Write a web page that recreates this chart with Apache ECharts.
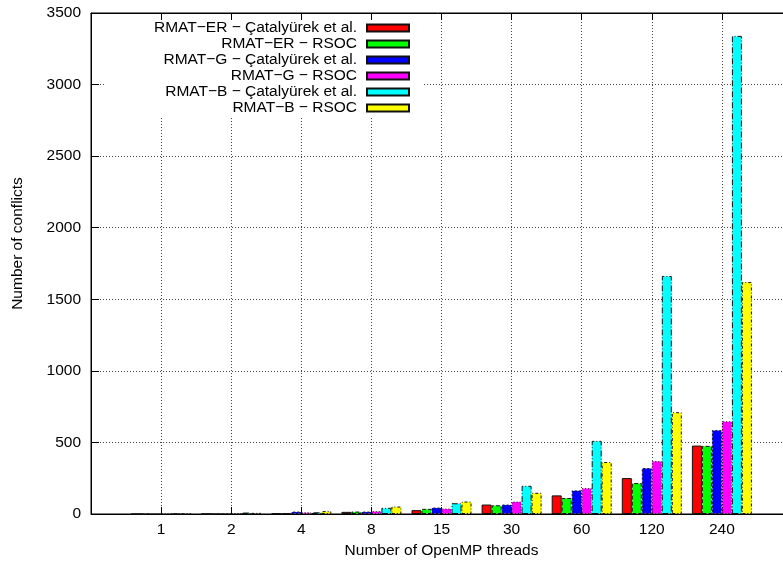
<!DOCTYPE html>
<html>
<head>
<meta charset="utf-8">
<script src="https://cdn.jsdelivr.net/npm/echarts@6/dist/echarts.min.js"></script>
<style>
  html, body { margin: 0; padding: 0; background: #fff; }
  #chart { width: 783px; height: 568px; }
</style>
</head>
<body>
<div id="chart"></div>
<script>
// Thread counts on the x axis (empty slots pad the range on both sides)
const threadCounts = ['1', '2', '4', '8', '15', '30', '60', '120', '240'];
const yTicks = [0, 500, 1000, 1500, 2000, 2500, 3000, 3500];

const seriesNames = [
  'RMAT\u2212ER \u2212 \u00c7atalyürek et al.',
  'RMAT\u2212ER \u2212 RSOC',
  'RMAT\u2212G \u2212 \u00c7atalyürek et al.',
  'RMAT\u2212G \u2212 RSOC',
  'RMAT\u2212B \u2212 \u00c7atalyürek et al.',
  'RMAT\u2212B \u2212 RSOC'
];

// Number of conflicts per thread count
const erCatalyurek = [0, 1, 5, 15, 27, 66, 130, 251, 478];
const erRsoc       = [0, 1, 6, 17, 36, 61, 112, 216, 476];
const gCatalyurek  = [0, 2, 17, 17, 45, 66, 165, 321, 586];
const gRsoc        = [0, 4, 12, 20, 38, 87, 181, 370, 648];
const bCatalyurek  = [1, 10, 12, 43, 75, 197, 511, 1663, 3340];
const bRsoc        = [1, 8, 20, 52, 87, 148, 363, 711, 1620];

const seriesValues = [erCatalyurek, erRsoc, gCatalyurek, gRsoc, bCatalyurek, bRsoc];
const fills = ['#ff0000', '#00ff00', '#0000ff', '#ff00ff', '#00ffff', '#ffff00'];
const borderDashes = ['solid', [4, 2], [2, 2], [1, 2], [6, 2, 1, 2], [3, 2, 1, 2]];

const FONT = "'Liberation Sans', Arial, Helvetica, sans-serif";
const FS = 15.5;
const categories = [''].concat(threadCounts, ['']);

const series = seriesNames.map((name, i) => ({
  name: name,
  type: 'bar',
  xAxisIndex: 0,
  barWidth: 10,
  barGap: '0%',
  data: [null].concat(seriesValues[i], [null]),
  itemStyle: {
    color: fills[i],
    borderColor: '#111',
    borderWidth: 1,
    borderType: borderDashes[i]
  },
  emphasis: { disabled: true }
}));

const chart = echarts.init(document.getElementById('chart'), null, { renderer: 'canvas' });
chart.setOption({
  animation: false,
  backgroundColor: '#fff',
  textStyle: { fontFamily: FONT },
  grid: {
    left: 91, width: 701, top: 13, bottom: 54,
    outerBoundsMode: 'none',
    containLabel: false,
    show: true, borderColor: '#000', borderWidth: 1, backgroundColor: 'transparent'
  },
  legend: {
    orient: 'vertical',
    right: 361,
    top: 20,
    align: 'right',
    itemWidth: 42,
    itemHeight: 7,
    itemGap: 0,
    icon: 'rect',
    selectedMode: false,
    backgroundColor: '#fff',
    padding: [0, 12, 0, 48],
    textStyle: { fontSize: FS, lineHeight: 16, color: '#000', fontFamily: FONT, padding: [0, 5, 0, 0] },
    data: seriesNames
  },
  xAxis: [{
    type: 'category',
    data: categories,
    boundaryGap: false,
    position: 'bottom',
    name: 'Number of OpenMP threads',
    nameLocation: 'middle',
    nameGap: 28,
    nameTextStyle: { fontSize: FS, color: '#000', fontFamily: FONT },
    axisLine: { show: true, lineStyle: { color: '#000', width: 1 } },
    axisTick: { show: true, inside: true, length: 7, interval: 0, lineStyle: { color: '#000' } },
    axisLabel: { interval: 0, margin: 8, fontSize: FS, color: '#000', fontFamily: FONT },
    splitLine: { show: true, interval: 0, lineStyle: { color: '#444', width: 1, type: [1, 2] } }
  }, {
    type: 'category',
    data: categories,
    boundaryGap: false,
    position: 'top',
    axisLine: { show: true, lineStyle: { color: '#000', width: 1 } },
    axisTick: { show: true, inside: true, length: 7, interval: 0, lineStyle: { color: '#000' } },
    axisLabel: { show: false },
    splitLine: { show: false }
  }],
  yAxis: {
    type: 'value',
    min: yTicks[0],
    max: yTicks[yTicks.length - 1],
    interval: yTicks[1] - yTicks[0],
    name: 'Number of conflicts',
    nameLocation: 'middle',
    nameGap: 65,
    nameTextStyle: { fontSize: FS, color: '#000', fontFamily: FONT, padding: [0, 0, 0, 40] },
    axisLine: { show: true, lineStyle: { color: '#000', width: 1 } },
    axisTick: { show: true, inside: true, length: 8, lineStyle: { color: '#000' } },
    axisLabel: { margin: 10, fontSize: FS, color: '#000', fontFamily: FONT, formatter: v => String(v) },
    splitLine: { show: true, lineStyle: { color: '#444', width: 1, type: [1, 2] } }
  },
  series: series
});
</script>
</body>
</html>
